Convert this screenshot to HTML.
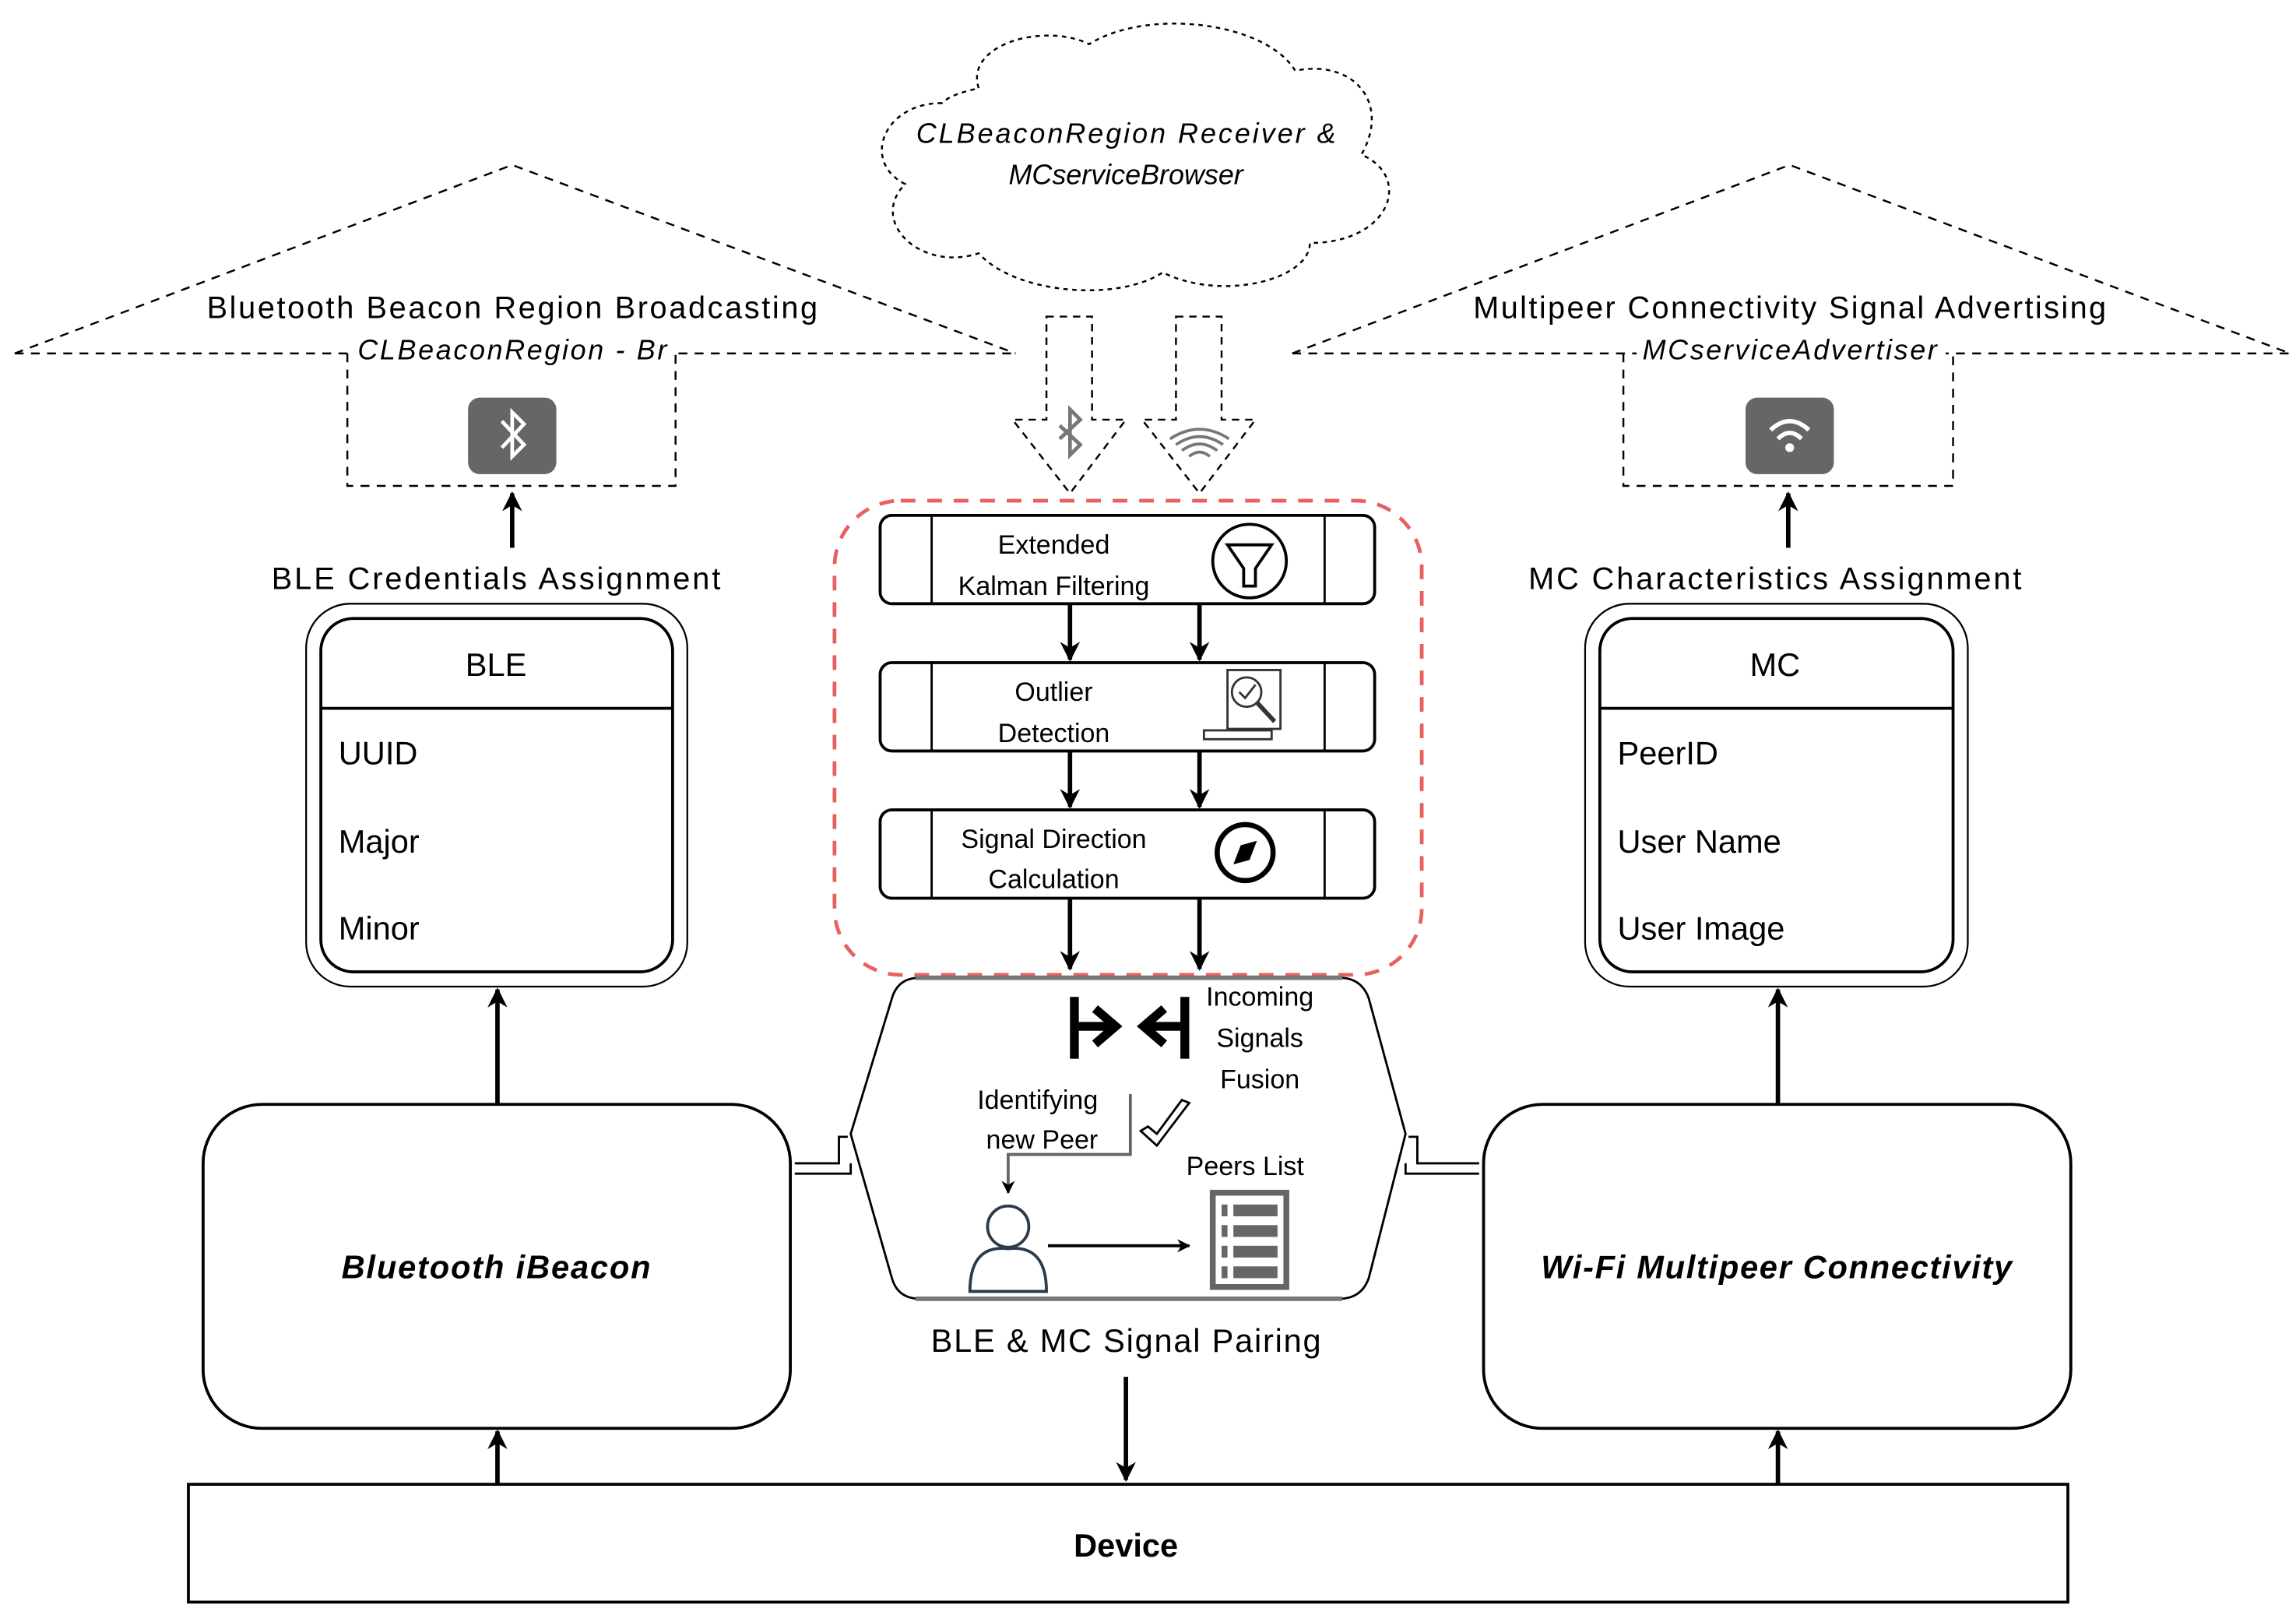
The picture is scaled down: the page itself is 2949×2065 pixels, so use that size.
<!DOCTYPE html>
<html><head><meta charset="utf-8"><style>html,body{margin:0;padding:0;background:#fff}svg{display:block}</style></head>
<body>
<svg width="2949" height="2065" viewBox="0 0 1560 1092" preserveAspectRatio="none" xmlns="http://www.w3.org/2000/svg" font-family="Liberation Sans, sans-serif">
<defs>
<marker id="ah" viewBox="0 0 10 10" refX="9" refY="5" markerWidth="4.5" markerHeight="4.5" orient="auto-start-reverse"><path d="M0,0 L10,5 L0,10 L3,5 z" fill="#000"/></marker>
</defs>
<rect width="1560" height="1092" fill="#fff"/>
<path d="M640,70 C600,70 585,110 615,125 C590,150 625,185 665,172 C690,200 760,205 790,185 C830,205 890,190 890,165 C945,165 960,120 925,105 C945,70 920,40 880,48 C860,15 780,5 740,30 C710,15 655,30 665,60 C655,62 645,65 640,70 Z" fill="none" stroke="#000" stroke-width="1.3" stroke-dasharray="3,3"/>
<text x="765" y="97" font-size="19" font-style="italic" text-anchor="middle" textLength="285">CLBeaconRegion Receiver &amp;</text>
<text x="765" y="125" font-size="19" font-style="italic" text-anchor="middle">MCserviceBrowser</text>
<g fill="none" stroke="#000" stroke-width="1.3" stroke-dasharray="6,5">
<path d="M10,240 L348,112 L690,240 M10,240 L690,240"/>
<path d="M236,240 L236,330 L459,330 L459,240"/>
<path d="M878,240 L1216,112 L1556,240 M878,240 L1556,240"/>
<path d="M1103,240 L1103,330 L1327,330 L1327,240"/>
</g>
<rect x="138" y="195" width="420" height="25" fill="#fff"/>
<rect x="240" y="225" width="218" height="24" fill="#fff"/>
<text x="348" y="216" font-size="21" text-anchor="middle" textLength="415">Bluetooth Beacon Region Broadcasting</text>
<text x="348" y="244" font-size="19" font-style="italic" text-anchor="middle" textLength="210">CLBeaconRegion - Br</text>
<rect x="998" y="195" width="436" height="25" fill="#fff"/>
<rect x="1112" y="225" width="210" height="24" fill="#fff"/>
<text x="1216" y="216" font-size="21" text-anchor="middle" textLength="430">Multipeer Connectivity Signal Advertising</text>
<text x="1216" y="244" font-size="19" font-style="italic" text-anchor="middle" textLength="200">MCserviceAdvertiser</text>
<rect x="318" y="270" width="60" height="52" rx="8" fill="#666"/>
<path d="M341,286 L356,302 L348,310 L348,280 L356,288 L341,304" fill="none" stroke="#fff" stroke-width="2.5"/>
<rect x="1186" y="270" width="60" height="52" rx="8" fill="#666"/>
<path d="M1203,292 Q1216,280 1229,292 M1208,298 Q1216,290 1224,298" fill="none" stroke="#fff" stroke-width="3"/>
<circle cx="1216" cy="304" r="3" fill="#fff"/>
<line x1="348" y1="372" x2="348" y2="335" stroke="#000" stroke-width="3" marker-end="url(#ah)"/>
<line x1="1215" y1="372" x2="1215" y2="335" stroke="#000" stroke-width="3" marker-end="url(#ah)"/>
<text x="337" y="400" font-size="21" text-anchor="middle" textLength="305">BLE Credentials Assignment</text>
<text x="1206" y="400" font-size="21" text-anchor="middle" textLength="335">MC Characteristics Assignment</text>
<g fill="none" stroke="#000">
<rect x="208" y="410" width="259" height="260" rx="30" stroke-width="1.2"/>
<rect x="218" y="420" width="239" height="240" rx="22" stroke-width="2"/>
<line x1="218" y1="481" x2="457" y2="481" stroke-width="2"/>
<rect x="1077" y="410" width="260" height="260" rx="30" stroke-width="1.2"/>
<rect x="1087" y="420" width="240" height="240" rx="22" stroke-width="2"/>
<line x1="1087" y1="481" x2="1327" y2="481" stroke-width="2"/>
</g>
<g font-size="22">
<text x="337" y="459" text-anchor="middle">BLE</text>
<text x="230" y="519">UUID</text><text x="230" y="579">Major</text><text x="230" y="638">Minor</text>
<text x="1206" y="459" text-anchor="middle">MC</text>
<text x="1099" y="519">PeerID</text><text x="1099" y="579">User Name</text><text x="1099" y="638">User Image</text>
</g>
<rect x="138" y="750" width="399" height="220" rx="40" fill="none" stroke="#000" stroke-width="2"/>
<text x="337" y="868" font-size="22" font-weight="bold" font-style="italic" text-anchor="middle" textLength="210">Bluetooth iBeacon</text>
<rect x="1008" y="750" width="399" height="220" rx="40" fill="none" stroke="#000" stroke-width="2"/>
<text x="1207" y="868" font-size="22" font-weight="bold" font-style="italic" text-anchor="middle" textLength="320">Wi-Fi Multipeer Connectivity</text>
<line x1="338" y1="750" x2="338" y2="672" stroke="#000" stroke-width="3" marker-end="url(#ah)"/>
<line x1="1208" y1="750" x2="1208" y2="672" stroke="#000" stroke-width="3" marker-end="url(#ah)"/>
<rect x="128" y="1008" width="1277" height="80" fill="none" stroke="#000" stroke-width="2"/>
<text x="765" y="1057" font-size="22" font-weight="bold" text-anchor="middle">Device</text>
<line x1="338" y1="1008" x2="338" y2="972" stroke="#000" stroke-width="3" marker-end="url(#ah)"/>
<line x1="1208" y1="1008" x2="1208" y2="972" stroke="#000" stroke-width="3" marker-end="url(#ah)"/>
<g fill="none" stroke="#000" stroke-width="1.3" stroke-dasharray="5,4">
<path d="M711,215 L742,215 L742,285 L765,285 L727,335 L688,285 L711,285 Z"/>
<path d="M799,215 L830,215 L830,285 L853,285 L815,335 L776,285 L799,285 Z"/>
</g>
<path d="M720,289 L734,302 L727,309 L727,278 L734,285 L720,298" fill="none" stroke="#777" stroke-width="2.5"/>
<path d="M795,298 Q815,285 835,298 M799,302 Q815,291 831,302 M803,306 Q815,297 827,306 M808,310 Q815,304 822,310" fill="none" stroke="#777" stroke-width="2"/>
<rect x="567" y="340" width="399" height="322" rx="45" fill="none" stroke="#e86060" stroke-width="2.5" stroke-dasharray="10,8"/>
<g fill="#fff" stroke="#000" stroke-width="2">
<rect x="598" y="350" width="336" height="60" rx="8"/>
<rect x="598" y="450" width="336" height="60" rx="8"/>
<rect x="598" y="550" width="336" height="60" rx="8"/>
</g>
<g stroke="#000" stroke-width="1.5">
<line x1="633" y1="350" x2="633" y2="410"/><line x1="900" y1="350" x2="900" y2="410"/>
<line x1="633" y1="450" x2="633" y2="510"/><line x1="900" y1="450" x2="900" y2="510"/>
<line x1="633" y1="550" x2="633" y2="610"/><line x1="900" y1="550" x2="900" y2="610"/>
</g>
<g font-size="18" text-anchor="middle">
<text x="716" y="376">Extended</text><text x="716" y="404">Kalman Filtering</text>
<text x="716" y="476">Outlier</text><text x="716" y="504">Detection</text>
<text x="716" y="576">Signal Direction</text><text x="716" y="603">Calculation</text>
</g>
<circle cx="849" cy="381" r="25" fill="none" stroke="#000" stroke-width="2"/>
<path d="M834,370 L864,370 L853,386 L853,398 L845,398 L845,386 Z" fill="none" stroke="#000" stroke-width="2"/>
<rect x="834" y="455" width="36" height="40" fill="none" stroke="#333" stroke-width="1.5"/>
<circle cx="847" cy="470" r="10" fill="#fff" stroke="#333" stroke-width="1.5"/>
<path d="M842,470 L846,474 L853,465" fill="none" stroke="#333" stroke-width="1.5"/>
<line x1="854" y1="477" x2="866" y2="490" stroke="#333" stroke-width="3"/>
<rect x="818" y="496" width="46" height="6" fill="none" stroke="#333" stroke-width="1.5"/>
<circle cx="846" cy="579" r="19" fill="none" stroke="#000" stroke-width="3.5"/>
<path d="M838,587 L843,574 L854,571 L849,584 Z" fill="#000"/>
<g stroke="#000" stroke-width="3" marker-end="url(#ah)">
<line x1="727" y1="410" x2="727" y2="448"/><line x1="815" y1="410" x2="815" y2="448"/>
<line x1="727" y1="510" x2="727" y2="548"/><line x1="815" y1="510" x2="815" y2="548"/>
<line x1="727" y1="610" x2="727" y2="658"/><line x1="815" y1="610" x2="815" y2="658"/>
</g>
<path d="M625,664 L910,664 Q925,664 930,678 L955,770 L930,868 Q925,882 910,882 L625,882 Q610,882 606,868 L578,770 L606,678 Q610,664 625,664 Z" fill="none" stroke="#000" stroke-width="1.5"/>
<line x1="622" y1="664" x2="912" y2="664" stroke="#777" stroke-width="3"/>
<line x1="622" y1="882" x2="912" y2="882" stroke="#777" stroke-width="3"/>
<rect x="727" y="677" width="6" height="42" fill="#000"/>
<rect x="802" y="677" width="6" height="42" fill="#000"/>
<rect x="733" y="694" width="22" height="6" fill="#000"/>
<rect x="780" y="694" width="22" height="6" fill="#000"/>
<path d="M744,685 L758,697 L744,709" fill="none" stroke="#000" stroke-width="6"/>
<path d="M791,685 L777,697 L791,709" fill="none" stroke="#000" stroke-width="6"/>
<g font-size="18" text-anchor="middle">
<text x="856" y="683">Incoming</text><text x="856" y="711">Signals</text><text x="856" y="739">Fusion</text>
<text x="705" y="753">Identifying</text><text x="708" y="780">new Peer</text>
<text x="846" y="798">Peers List</text>
</g>
<path d="M775,768 L786,778 L808,749 L803,747 L786,770 L780,765 Z" fill="none" stroke="#000" stroke-width="1.5"/>
<path d="M768,743 L768,784 L685,784 L685,810" fill="none" stroke="#666" stroke-width="2" marker-end="url(#ah)"/>
<circle cx="685" cy="833" r="14" fill="none" stroke="#2b3a4a" stroke-width="2"/>
<path d="M659,877 Q659,845 685,848 Q711,845 711,877 Z" fill="none" stroke="#2b3a4a" stroke-width="2"/>
<line x1="712" y1="846" x2="808" y2="846" stroke="#000" stroke-width="2" marker-end="url(#ah)"/>
<rect x="822" y="808" width="54" height="68" fill="#666"/>
<rect x="826" y="812" width="46" height="60" fill="#fff"/>
<g fill="#666">
<rect x="830" y="818" width="4" height="8"/><rect x="838" y="818" width="30" height="8"/>
<rect x="830" y="832" width="4" height="8"/><rect x="838" y="832" width="30" height="8"/>
<rect x="830" y="846" width="4" height="8"/><rect x="838" y="846" width="30" height="8"/>
<rect x="830" y="860" width="4" height="8"/><rect x="838" y="860" width="30" height="8"/>
</g>
<text x="765" y="918" font-size="22" text-anchor="middle" textLength="265">BLE &amp; MC Signal Pairing</text>
<line x1="765" y1="935" x2="765" y2="1005" stroke="#000" stroke-width="3" marker-end="url(#ah)"/>
<g fill="none" stroke="#000" stroke-width="1.5">
<path d="M540,790 L570,790 L570,772 L576,772"/>
<path d="M540,797 L578,797 L578,790"/>
<path d="M1005,790 L963,790 L963,772 L957,772"/>
<path d="M1005,797 L955,797 L955,790"/>
</g>
</svg>
</body></html>
